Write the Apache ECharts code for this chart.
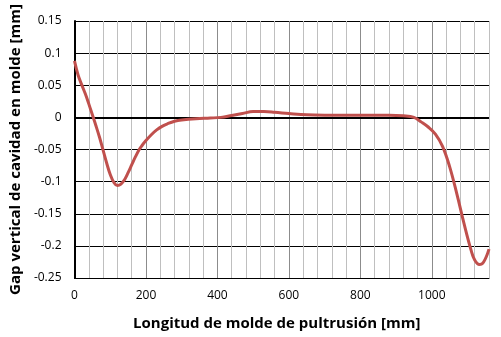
<!DOCTYPE html>
<html>
<head>
<meta charset="utf-8">
<script src="https://cdn.jsdelivr.net/npm/echarts@6/dist/echarts.min.js"></script>
<style>html,body{margin:0;padding:0;background:#fff;}#c{width:501px;height:337px;}</style>
</head>
<body>
<div id="c"></div>
<script>
var xValues = [0, 10, 20, 30, 40, 50, 60, 70, 80, 90, 100, 110, 120, 130, 140, 150, 160, 170, 180, 190, 200, 215, 230, 245, 260, 280, 300, 340, 380, 410, 440, 470, 500, 530, 560, 600, 650, 700, 760, 820, 880, 920, 950, 970, 990, 1010, 1030, 1050, 1070, 1090, 1110, 1120, 1133, 1145, 1160];
var gapValues = [0.088, 0.066, 0.051, 0.037, 0.021, 0.004, -0.013, -0.031, -0.051, -0.071, -0.089, -0.101, -0.106, -0.104, -0.097, -0.086, -0.074, -0.062, -0.051, -0.043, -0.036, -0.027, -0.0195, -0.014, -0.010, -0.006, -0.004, -0.002, -0.001, 0, 0.003, 0.006, 0.009, 0.009, 0.008, 0.006, 0.004, 0.0035, 0.0035, 0.0035, 0.0035, 0.0025, 0.0, -0.007, -0.015, -0.026, -0.045, -0.077, -0.119, -0.165, -0.207, -0.222, -0.229, -0.225, -0.205];
var xTickLabels = [0, 200, 400, 600, 800, 1000];
var xTitle = 'Longitud de molde de pultrusión [mm]';
var yTitle = 'Gap vertical de cavidad en molde [mm]';

var data = xValues.map(function (x, i) { return [x, gapValues[i]]; });
var font = 'Open Sans';
var chart = echarts.init(document.getElementById('c'), null, {renderer: 'canvas'});
chart.setOption({
  animation: false,
  backgroundColor: '#fff',
  grid: {left: 70, right: 12, top: 21, bottom: 59, containLabel: false},
  xAxis: {
    type: 'value', min: 0, max: 1160, interval: 40,
    name: xTitle, nameLocation: 'middle', nameGap: 38,
    nameTextStyle: {fontFamily: font, fontWeight: 'bold', fontSize: 15, color: '#000', padding: [0, 10, 0, 0]},
    axisLine: {show: true, onZero: false, lineStyle: {color: '#000', width: 1}},
    axisTick: {show: false},
    axisLabel: {
      interval: 0, margin: 12, fontFamily: font, fontSize: 12, color: '#000',
      formatter: function (v) { return xTickLabels.indexOf(v) >= 0 ? String(v) : ''; }
    },
    splitLine: {show: true, lineStyle: {color: ['#8c8c8c', '#bfbfbf', '#bfbfbf', '#bfbfbf', '#bfbfbf'], width: 1}}
  },
  yAxis: {
    type: 'value', min: -0.25, max: 0.15, interval: 0.05,
    name: yTitle, nameLocation: 'middle', nameGap: 50, nameRotate: 90,
    nameTextStyle: {fontFamily: font, fontWeight: 'bold', fontSize: 15, color: '#000'},
    axisLine: {show: true, lineStyle: {color: '#000', width: 2}},
    axisTick: {show: false},
    axisLabel: {
      margin: 13, fontFamily: font, fontSize: 12, color: '#000',
      formatter: function (v) { return String(Math.round(v * 100) / 100); }
    },
    splitLine: {show: true, lineStyle: {color: '#000', width: 1}}
  },
  series: [{
    type: 'line', data: data, smooth: 0.4, showSymbol: false, symbol: 'none',
    lineStyle: {color: '#C0504D', width: 3},
    z: 5,
    markLine: {
      silent: true, symbol: 'none', label: {show: false},
      lineStyle: {color: '#000', width: 2, type: 'solid'},
      data: [{yAxis: 0}], z: 3
    }
  }]
});
</script>
</body>
</html>
